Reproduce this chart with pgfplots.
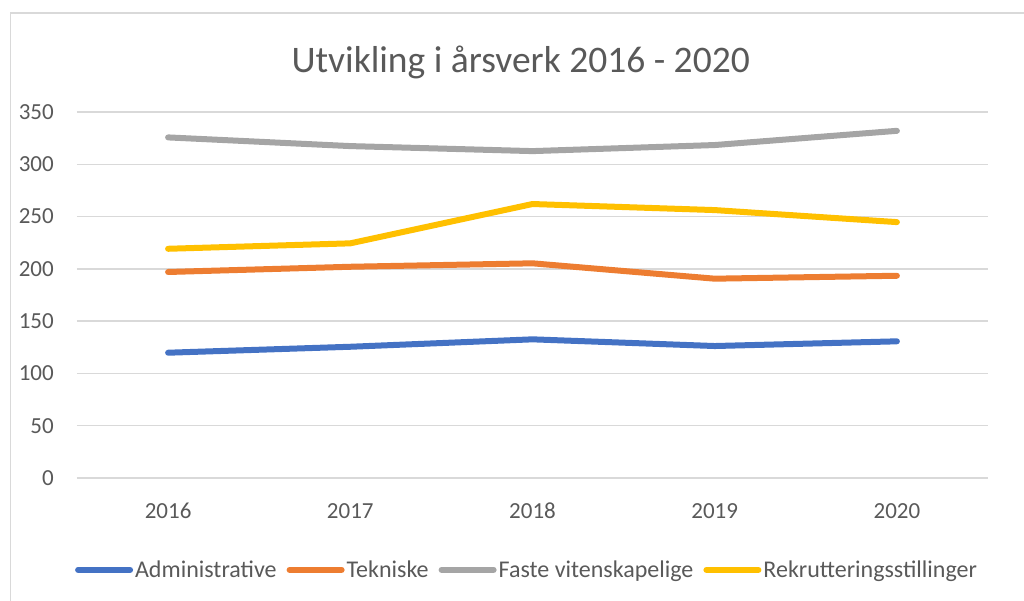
\documentclass[border=0pt]{standalone}
\usepackage{fontspec}
\setmainfont{Carlito}
\usepackage{pgfplots}
\pgfplotsset{compat=1.18}
\definecolor{Txt}{HTML}{595959}
\definecolor{Grid}{HTML}{D9D9D9}
\definecolor{Adm}{HTML}{4472C4}
\definecolor{Tek}{HTML}{ED7D31}
\definecolor{Fast}{HTML}{A5A5A5}
\definecolor{Rek}{HTML}{FFC000}
\begin{document}
\begin{tikzpicture}[x=1pt,y=1pt]
% page = 1024 x 601 image, axis origin at image (77,478)
\useasboundingbox (-77,-123) rectangle (947,478);
\draw[Grid,line width=1.5pt] (-66.5,-140) -- (-66.5,465) -- (970,465);
\begin{axis}[
  at={(0,0)},anchor=origin,
  scale only axis,width=911pt,height=366pt,
  xmin=2015.5,xmax=2020.5,ymin=0,ymax=350,
  xtick={2016,2017,2018,2019,2020},
  ytick={0,50,100,150,200,250,300,350},
  xticklabel style={/pgf/number format/1000 sep={}},
  /pgf/number format/assume math mode=true,
  ymajorgrids,grid style={Grid,line width=1.5pt},
  axis line style={draw=none},
  major tick length=0pt,
  tick label style={font=\fontsize{23}{27}\selectfont,text=Txt,inner sep=0pt},
  yticklabel style={anchor=east,xshift=-23pt},
  xticklabel style={anchor=north,yshift=-25pt},
  title={Utvikling i årsverk 2016 - 2020},
  title style={font=\fontsize{37.5}{42}\selectfont,text=Txt,at={(0.487,1.12)},anchor=center},
  legend columns=4,
  legend style={draw=none,fill=none,font=\fontsize{24}{28}\selectfont,text=Txt,
    at={(0.494,-0.251)},anchor=center,
    /tikz/every even column/.append style={column sep=8pt}},
  legend image code/.code={\draw[#1,line cap=round] (0pt,0pt) -- (52pt,0pt);},
  every axis plot/.append style={line width=6pt,line cap=round,line join=round},
]
\addplot[Adm] coordinates {(2016,119.8) (2017,125.5) (2018,132.6) (2019,126.2) (2020,130.7)};
\addlegendentry{Administrative}
\addplot[Tek] coordinates {(2016,197) (2017,202) (2018,205.3) (2019,190.6) (2020,193.4)};
\addlegendentry{Tekniske}
\addplot[Fast] coordinates {(2016,325.7) (2017,317.4) (2018,312.6) (2019,318.4) (2020,332)};
\addlegendentry{Faste vitenskapelige}
\addplot[Rek] coordinates {(2016,219.2) (2017,224.4) (2018,262) (2019,256.2) (2020,244.7)};
\addlegendentry{Rekrutteringsstillinger}
\end{axis}
\end{tikzpicture}
\end{document}
